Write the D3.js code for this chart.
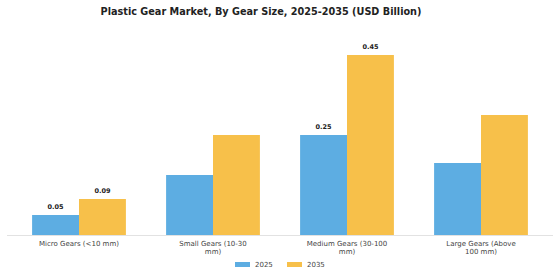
<!DOCTYPE html>
<html>
<head>
<meta charset="utf-8">
<script src="https://cdn.jsdelivr.net/npm/d3@7"></script>
<style>
	body { margin: 0; background: #fff; }
	text { font-family: "DejaVu Sans", sans-serif; }
</style>
</head>
<body>
<div id="chart"></div>
<script>

// data
const categories = ["Micro Gears (<10 mm)", "Small Gears (10-30 mm)", "Medium Gears (30-100 mm)", "Large Gears (Above 100 mm)"];
const tickLines = [["Micro Gears (<10 mm)"], ["Small Gears (10-30", "mm)"], ["Medium Gears (30-100", "mm)"], ["Large Gears (Above", "100 mm)"]];
const years = ["2025", "2035"];
const values2025 = [0.05, 0.15, 0.25, 0.18];
const values2035 = [0.09, 0.25, 0.45, 0.30];
// only some bars carry a value label in the original
const showLabel = [true, false, true, false];

function chart(){

	//sizing
	const width = 560;
	const height = 280;
	const baseline = 235;

	let svg = d3.select("#chart")
		.append("svg")
		.attr("width", width)
		.attr("height", height);

	let color = d3.scaleOrdinal()
		.domain(years)
		.range(["#5DADE2", "#F7C04A"]);

	let x0 = d3.scaleBand()
		.domain(categories)
		.range([12, 548])
		.paddingInner(0.3)
		.paddingOuter(0.15);

	let x1 = d3.scaleBand()
		.domain(years)
		.range([0, x0.bandwidth()]);

	let y = d3.scaleLinear()
		.domain([0, 0.45])
		.range([baseline, 55]);

	//title
	svg.append("text")
		.attr("x", 261)
		.attr("y", 15)
		.attr("text-anchor", "middle")
		.attr("font-size", 9.7)
		.attr("font-weight", "bold")
		.attr("fill", "#222")
		.text("Plastic Gear Market, By Gear Size, 2025-2035 (USD Billion)");

	let rows = categories.map((c, i) => ({
		cat: c, i: i,
		vals: [{year: "2025", v: values2025[i]}, {year: "2035", v: values2035[i]}]
	}));

	let groups = svg.append("g")
		.selectAll("g")
		.data(rows)
		.enter().append("g")
		.attr("transform", d => "translate(" + x0(d.cat) + ",0)");

	groups.selectAll("rect")
		.data(d => d.vals)
		.enter().append("rect")
		.attr("x", d => x1(d.year))
		.attr("y", d => y(d.v))
		.attr("width", x1.bandwidth())
		.attr("height", d => baseline - y(d.v))
		.attr("fill", d => color(d.year));

	groups.filter(d => showLabel[d.i])
		.selectAll(".val")
		.data(d => d.vals)
		.enter().append("text")
		.attr("class", "val")
		.attr("x", d => x1(d.year) + x1.bandwidth()/2)
		.attr("y", d => y(d.v) - 6)
		.attr("text-anchor", "middle")
		.attr("font-size", 6.5)
		.attr("font-weight", "bold")
		.attr("fill", "#222")
		.text(d => d.v.toFixed(2));

	//x axis
	let axis = svg.append("g")
		.attr("transform", "translate(0," + baseline + ")")
		.call(d3.axisBottom(x0).tickSize(0).tickFormat(""));
	axis.select(".domain").remove();

	svg.append("line")
		.attr("x1", 7)
		.attr("x2", 553)
		.attr("y1", baseline + 0.5)
		.attr("y2", baseline + 0.5)
		.attr("stroke", "#e2e2e2");

	let labels = svg.append("g")
		.selectAll("text")
		.data(categories)
		.enter().append("text")
		.attr("x", d => x0(d) + x0.bandwidth()/2)
		.attr("y", baseline + 11)
		.attr("text-anchor", "middle")
		.attr("font-size", 7)
		.attr("fill", "#444");

	labels.selectAll("tspan")
		.data((d, i) => tickLines[i])
		.enter().append("tspan")
		.attr("x", function(){ return d3.select(this.parentNode).attr("x"); })
		.attr("dy", (d, i) => i === 0 ? 0 : 8)
		.text(d => d);

	//legend
	let legend = svg.append("g")
		.selectAll("g")
		.data(years)
		.enter().append("g")
		.attr("transform", (d, i) => "translate(" + (235 + i*52) + ",262)");

	legend.append("rect")
		.attr("width", 15)
		.attr("height", 5)
		.attr("fill", d => color(d));

	legend.append("text")
		.attr("x", 20)
		.attr("y", 5)
		.attr("font-size", 7)
		.attr("fill", "#444")
		.text(d => d);

}

window.addEventListener("load", chart);
</script>
</body>
</html>
